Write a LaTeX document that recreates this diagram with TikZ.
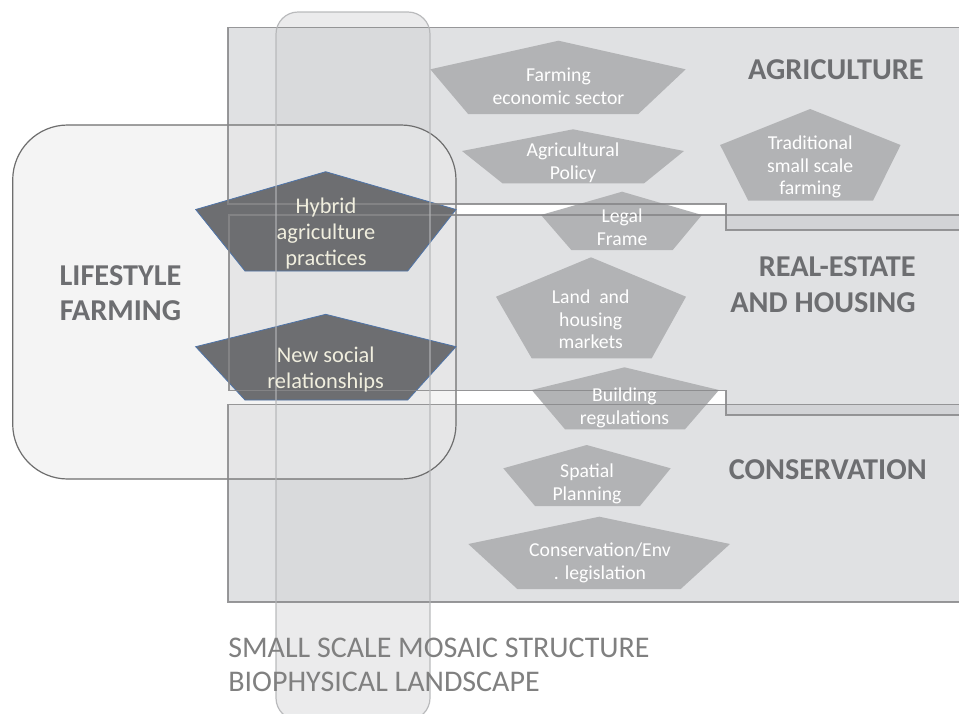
\documentclass[tikz,border=0pt]{standalone}
\usepackage{fontspec}
\setmainfont{Carlito}
\definecolor{bandfill}{RGB}{200,201,204}
\definecolor{bandline}{RGB}{135,135,137}
\definecolor{vfill}{RGB}{208,209,211}
\definecolor{vline}{RGB}{180,181,183}
\definecolor{lfill}{RGB}{235,235,235}
\definecolor{lline}{RGB}{110,110,110}
\definecolor{pentfill}{RGB}{178,179,181}
\definecolor{darkpent}{RGB}{109,110,113}
\definecolor{darkedge}{RGB}{79,116,168}
\definecolor{cream}{RGB}{240,238,222}
\definecolor{headc}{RGB}{109,110,113}
\definecolor{bottomc}{RGB}{128,128,128}
\newcommand{\mylinesc}[1]{\begin{tabular}[t]{@{}c@{}}#1\end{tabular}}
\newcommand{\mylinesr}[1]{\begin{tabular}[t]{@{}r@{}}#1\end{tabular}}
\newcommand{\mylinesl}[1]{\begin{tabular}[t]{@{}l@{}}#1\end{tabular}}
\tikzset{
  bandbox/.style={fill=bandfill, fill opacity=0.55},
  bandedge/.style={draw=bandline, line width=1.2pt, draw opacity=0.85},
  vbox/.style={fill=vfill, fill opacity=0.42},
  vedge/.style={draw=vline, line width=1.2pt, draw opacity=0.9},
  lbox/.style={fill=lfill, fill opacity=0.55, draw=lline, line width=1.2pt},
  pentbox/.style={fill=pentfill},
  darkbox/.style={fill=darkpent, draw=darkedge, line width=0.8pt},
  ptext/.style={inner sep=0pt, outer sep=0pt, anchor=base, text=white,
    font={\fontsize{19.7}{22.7}\selectfont}},
  dtext/.style={inner sep=0pt, outer sep=0pt, anchor=base, text=cream,
    font={\fontsize{22.4}{26.3}\selectfont}},
  headtext/.style={inner sep=0pt, outer sep=0pt, text=headc,
    font={\fontsize{30.3}{36.7}\selectfont\bfseries}},
  bottomtext/.style={inner sep=0pt, outer sep=0pt, text=bottomc,
    font={\fontsize{30}{34}\selectfont}}
}
\begin{document}
\begin{tikzpicture}[x=1pt,y=-1pt]
\useasboundingbox (0,0) rectangle (959,713);
\fill[white] (0,0) rectangle (959,713);
% band fills
\fill[bandbox] (228,27.5) -- (975,27.5) -- (975,230) -- (726,230) -- (726,204) -- (228,204) -- cycle;
\fill[bandbox] (229,215) -- (975,215) -- (975,415) -- (726,415) -- (726,390.5) -- (229,390.5) -- cycle;
\fill[bandbox] (228,404.5) rectangle (975,602);
% vertical landscape strip
\fill[vbox, rounded corners=22pt] (276,12) rectangle (430,720);
% lifestyle box
\path[lbox, rounded corners=55pt] (12.7,125) rectangle (456,479);
% grey pentagons
\fill[pentbox] (558.5,40.7) -- (685.7,69.3) -- (638.3,114) -- (468.1,114) -- (430.3,69.3) -- cycle;
\fill[pentbox] (573,129.3) -- (684,151) -- (644.1,183.3) -- (502.5,183.3) -- (462,151) -- cycle;
\fill[pentbox] (810.2,109) -- (900.6,145) -- (873,200.7) -- (748.3,200.7) -- (720.1,145) -- cycle;
\fill[pentbox] (622.1,191.7) -- (701.9,215) -- (672.7,250) -- (571.3,250) -- (541,215) -- cycle;
\fill[pentbox] (591,257.3) -- (686,296.7) -- (651.7,358.3) -- (531.7,358.3) -- (496,296.7) -- cycle;
\fill[pentbox] (624.5,367.3) -- (719,390) -- (685,429.3) -- (565,429.3) -- (531.7,390) -- cycle;
\fill[pentbox] (586.7,445) -- (670.7,468.3) -- (640,506) -- (535,506) -- (503.3,468.3) -- cycle;
\fill[pentbox] (599.3,516.7) -- (730,544) -- (680.7,589) -- (517.3,589) -- (468.3,544) -- cycle;
% dark pentagons
\path[darkbox] (325.7,171.7) -- (456,209.5) -- (407.7,271) -- (245,271) -- (195.7,209.5) -- cycle;
\path[darkbox] (325.7,314.3) -- (456,346.7) -- (407.7,400) -- (245,400) -- (195.7,346.7) -- cycle;
% outlines on top
\draw[bandedge] (228,27.5) -- (975,27.5) -- (975,230) -- (726,230) -- (726,204) -- (228,204) -- cycle;
\draw[bandedge] (229,215) -- (975,215) -- (975,415) -- (726,415) -- (726,390.5) -- (229,390.5) -- cycle;
\draw[bandedge] (228,404.5) rectangle (975,602);
\draw[vedge, rounded corners=22pt] (276,12) rectangle (430,720);
% grey pentagon texts
\node[ptext] (farming) at (558.5,81.7) {\mylinesc{Farming\\economic sector}};
\node[ptext] (policy) at (573,156.7) {\mylinesc{Agricultural\\Policy}};
\node[ptext] (traditional) at (810.2,149.3) {\mylinesc{Traditional\\small scale\\farming}};
\node[ptext] (legal) at (622.1,222.7) {\mylinesc{Legal\\Frame}};
\node[ptext] (land) at (590.7,303.3) {\mylinesc{Land\ \ and\\housing\\markets}};
\node[ptext] (building) at (624.5,401.7) {\mylinesc{Building\\regulations}};
\node[ptext] (spatial) at (587,477.7) {\mylinesc{Spatial\\Planning}};
\node[ptext] (conslaw) at (600,556.7) {\mylinesc{Conservation/Env\\. legislation}};
% dark pentagon texts
\node[dtext] (hybrid) at (326,213.3) {\mylinesc{Hybrid\\agriculture\\practices}};
\node[dtext] (social) at (325.7,362.3) {\mylinesc{New social\\relationships}};
% headings
\node[headtext, anchor=base east] (agri) at (923.6,79.3) {AGRICULTURE};
\node[headtext, anchor=base east] (realestate) at (915.7,276) {\mylinesr{REAL-ESTATE\\AND HOUSING}};
\node[headtext, anchor=base east] (conservation) at (926.7,479) {CONSERVATION};
\node[headtext, anchor=base, font={\fontsize{30.3}{35.7}\selectfont\bfseries}] (lifestyle) at (120.5,285) {\mylinesc{LIFESTYLE\\FARMING}};
\node[bottomtext, anchor=base west] (landscape) at (228.3,657) {\mylinesl{SMALL SCALE MOSAIC STRUCTURE\\BIOPHYSICAL LANDSCAPE}};
\end{tikzpicture}
\end{document}
